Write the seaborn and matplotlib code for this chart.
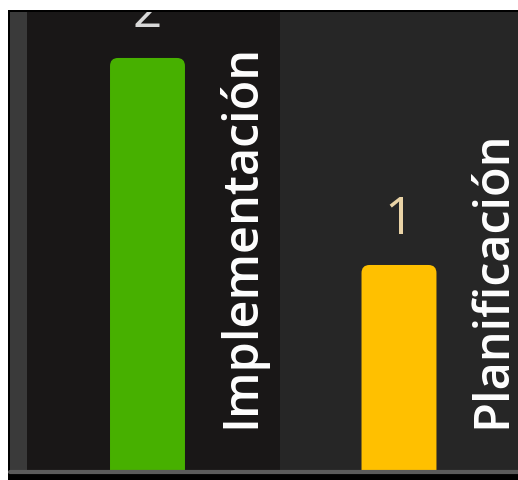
import matplotlib
matplotlib.use("Agg")
import matplotlib.pyplot as plt
from matplotlib.patches import Rectangle, FancyBboxPatch
import seaborn as sns
import pandas as pd

categories = ["Implementación", "Planificación"]
values = [2, 1]
value_labels = ["2", "1"]

bar_colors = ["#47b000", "#ffc000"]
label_colors = ["#d8d8d8", "#e9d3a6"]

sns.set_theme(style="dark")
plt.rcParams["font.family"] = ["Open Sans", "DejaVu Sans"]

W, H = 518, 480
fig = plt.figure(figsize=(W / 100, H / 100), dpi=100, facecolor="white")
fig.add_artist(Rectangle((8 / W, 0), 510 / W, 470 / H, transform=fig.transFigure,
                         facecolor="black", edgecolor="none", zorder=0))
ax = fig.add_axes([10 / W, 8 / H, 508 / W, 460 / H])
ax.set_facecolor("#262626")
ax.fill_between([0, 17 / 508], 0, 1, transform=ax.transAxes, color="#3a3a3a", lw=0, zorder=0)
ax.fill_between([17 / 508, 270 / 508], 0, 1, transform=ax.transAxes, color="#191717", lw=0, zorder=0)

df = pd.DataFrame({"cat": categories, "val": values})
sns.barplot(data=df, x="cat", y="val", hue="cat", palette=bar_colors, legend=False,
            width=0.298, ax=ax, saturation=1)

ax.set_xlim(-0.5467, 1.4732)
ax.set_ylim(0, 2.222)

# rounded bar tops
r = 0.032
asp = 251.5 / 207
for p in list(ax.patches):
    x, y, w, h = p.get_x(), p.get_y(), p.get_width(), p.get_height()
    fc = p.get_facecolor()
    p.set_visible(False)
    fb = FancyBboxPatch((x, y - 0.1), w, h + 0.1,
                        boxstyle=f"round,pad=0,rounding_size={r}",
                        mutation_aspect=asp, facecolor=fc, edgecolor="none", zorder=2)
    ax.add_patch(fb)

for i, (cat, v, lab) in enumerate(zip(categories, values, value_labels)):
    ax.text(i, v + 0.15, lab, ha="center", va="baseline", fontsize=37,
            color=label_colors[i], zorder=3, clip_on=True)
    ax.text(i + 0.424, 0.2126, cat, rotation=90, rotation_mode="anchor",
            ha="left", va="baseline", fontsize=35, color="white",
            fontweight="semibold", zorder=3)

ax.axhline(0, color="#5a5a5a", lw=3, zorder=4, clip_on=False)
ax.set_xticks([])
ax.set_yticks([])
ax.set_xlabel("")
ax.set_ylabel("")
for s in ax.spines.values():
    s.set_visible(False)

fig.savefig("out.png", dpi=100, facecolor="white")
